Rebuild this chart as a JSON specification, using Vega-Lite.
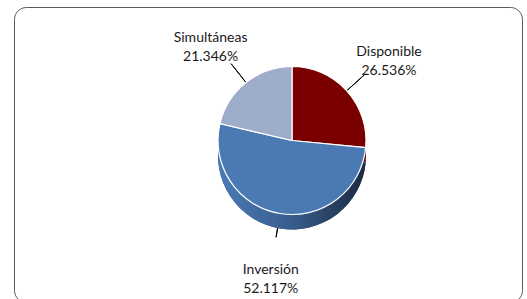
{
  "$schema": "https://vega.github.io/schema/vega-lite/v6.json",
  "width": 527,
  "height": 299,
  "autosize": {"type": "fit", "contains": "padding"},
  "padding": {"left": 14, "top": 7, "right": 5, "bottom": -3},
  "background": "white",
  "view": {"stroke": "#5a5a5a", "strokeWidth": 1, "cornerRadius": 12},
  "data": {
    "values": [
      {"serie": "Disponible", "pct": 26.536, "orden": 1},
      {"serie": "Inversión", "pct": 52.117, "orden": 2},
      {"serie": "Simultáneas", "pct": 21.346, "orden": 3}
    ]
  },
  "transform": [
    {"joinaggregate": [{"op": "sum", "field": "pct", "as": "total"}]},
    {"window": [{"op": "sum", "field": "pct", "as": "cum"}], "sort": [{"field": "orden"}]},
    {"calculate": "(datum.cum - datum.pct) / datum.total * 2 * PI", "as": "t0"},
    {"calculate": "datum.cum / datum.total * 2 * PI", "as": "t1"},
    {"calculate": "(datum.cum - datum.pct / 2) / datum.total * 2 * PI", "as": "mid"},
    {"calculate": "[datum.serie, format(datum.pct, '.3f') + '%']", "as": "label"}
  ],
  "layer": [
    {
      "mark": {"type": "arc", "radius": 98, "radius2": 40, "fill": null, "stroke": "black", "strokeWidth": 1, "x": {"expr": "width/2+24"}, "y": {"expr": "height/2-14"}},
      "encoding": {
        "theta": {"field": "mid", "type": "quantitative", "scale": null, "stack": null},
        "theta2": {"field": "mid"}
      }
    },
    {
      "mark": {"type": "arc", "radius": 74, "yOffset": 15, "x": {"expr": "width/2+24"}, "y": {"expr": "height/2-14"}},
      "encoding": {
        "theta": {"field": "t0", "type": "quantitative", "scale": null, "stack": null},
        "theta2": {"field": "t1"},
        "fill": {
          "field": "serie", "type": "nominal",
          "scale": {"domain": ["Disponible", "Inversión", "Simultáneas"], "range": ["#5e0000", "#2f4a70", "#7d8ba5"]},
          "legend": null
        }
      }
    },
    {
      "transform": [{"filter": "datum.serie === 'Inversión'"}],
      "mark": {
        "type": "arc", "radius": 74, "yOffset": 15, "x": {"expr": "width/2+24"}, "y": {"expr": "height/2-14"},
        "fill": {
          "gradient": "linear", "x1": 0, "y1": 0, "x2": 1, "y2": 0,
          "stops": [
            {"offset": 0, "color": "#4a7bb6"},
            {"offset": 0.5, "color": "#385d8c"},
            {"offset": 1, "color": "#1c2a40"}
          ]
        }
      },
      "encoding": {
        "theta": {"field": "t0", "type": "quantitative", "scale": null, "stack": null},
        "theta2": {"field": "t1"}
      }
    },
    {
      "mark": {"type": "arc", "radius": 74, "stroke": "white", "strokeWidth": 1.2, "x": {"expr": "width/2+24"}, "y": {"expr": "height/2-14"}},
      "encoding": {
        "theta": {"field": "t0", "type": "quantitative", "scale": null, "stack": null},
        "theta2": {"field": "t1"},
        "color": {
          "field": "serie", "type": "nominal",
          "scale": {"domain": ["Disponible", "Inversión", "Simultáneas"], "range": ["#7a0000", "#4a79b3", "#9eadc9"]},
          "legend": null
        }
      }
    },
    {
      "mark": {"type": "text", "radius": 131, "font": "Lato", "fontSize": 14, "color": "#1a1a1a", "align": "center", "baseline": "middle", "lineHeight": 19, "x": {"expr": "width/2+24"}, "y": {"expr": "height/2-14"}},
      "encoding": {
        "theta": {"field": "mid", "type": "quantitative", "scale": null, "stack": null},
        "text": {"field": "label"}
      }
    }
  ],
  "resolve": {"scale": {"color": "independent"}}
}
